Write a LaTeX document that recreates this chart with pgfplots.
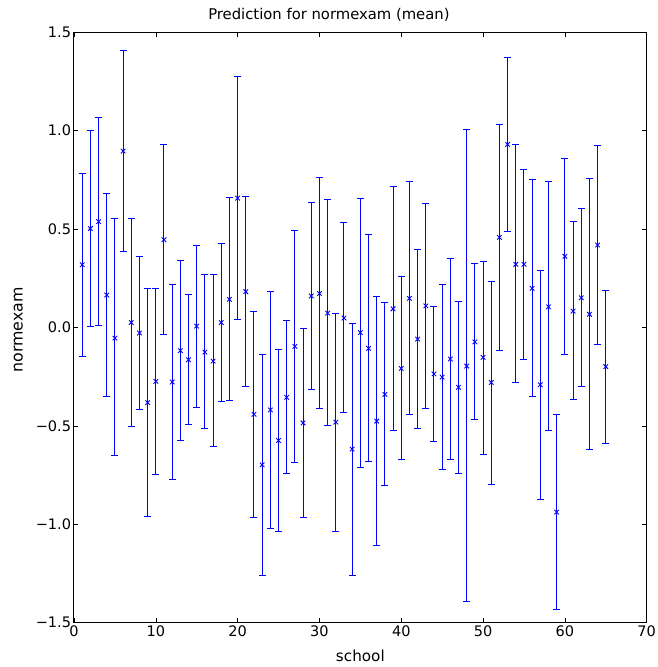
\documentclass[border=0pt]{standalone}
\usepackage{fontspec}
\setmainfont{DejaVu Sans}
\usepackage{pgfplots}
\usepackage{pgfplotstable}
\pgfplotsset{compat=1.18}
\definecolor{mplblue}{rgb}{0,0,1}
\pgfplotstableread{
x y lo hi
1 0.319 -0.149 0.784
2 0.503 0.005 1.000
3 0.538 0.010 1.068
4 0.165 -0.350 0.681
5 -0.054 -0.652 0.552
6 0.896 0.387 1.406
7 0.025 -0.502 0.553
8 -0.028 -0.419 0.360
9 -0.382 -0.961 0.200
10 -0.274 -0.745 0.197
11 0.446 -0.034 0.930
12 -0.277 -0.770 0.216
13 -0.118 -0.573 0.338
14 -0.164 -0.492 0.166
15 0.007 -0.404 0.418
16 -0.125 -0.515 0.267
17 -0.171 -0.603 0.267
18 0.025 -0.378 0.428
19 0.143 -0.373 0.662
20 0.657 0.040 1.273
21 0.182 -0.302 0.665
22 -0.441 -0.965 0.081
23 -0.698 -1.262 -0.135
24 -0.419 -1.022 0.183
25 -0.574 -1.037 -0.113
26 -0.355 -0.742 0.034
27 -0.096 -0.688 0.492
28 -0.485 -0.965 -0.004
29 0.160 -0.316 0.635
30 0.173 -0.414 0.761
31 0.073 -0.497 0.649
32 -0.481 -1.037 0.073
33 0.048 -0.432 0.531
34 -0.618 -1.262 0.020
35 -0.026 -0.711 0.657
36 -0.106 -0.682 0.474
37 -0.476 -1.108 0.156
38 -0.340 -0.802 0.126
39 0.095 -0.522 0.716
40 -0.208 -0.672 0.258
41 0.148 -0.444 0.740
42 -0.059 -0.512 0.394
43 0.110 -0.410 0.628
44 -0.236 -0.579 0.107
45 -0.252 -0.721 0.221
46 -0.160 -0.669 0.350
47 -0.304 -0.743 0.134
48 -0.196 -1.394 1.008
49 -0.073 -0.468 0.324
50 -0.152 -0.644 0.336
51 -0.279 -0.796 0.236
52 0.458 -0.115 1.031
53 0.930 0.487 1.372
54 0.321 -0.280 0.930
55 0.321 -0.162 0.803
56 0.199 -0.350 0.750
57 -0.291 -0.872 0.292
58 0.105 -0.522 0.740
59 -0.938 -1.432 -0.444
60 0.362 -0.135 0.857
61 0.083 -0.368 0.540
62 0.151 -0.299 0.603
63 0.067 -0.620 0.757
64 0.419 -0.086 0.924
65 -0.199 -0.588 0.190
}\data
\begin{document}
\begin{tikzpicture}
\begin{axis}[
  name=ax,
  scale only axis,
  width=572.7bp, height=590.4bp,
  xmin=0, xmax=70, ymin=-1.5, ymax=1.5,
  xtick={0,10,...,70},
  ytick={-1.5,-1,-0.5,0,0.5,1,1.5},
  yticklabels={−1.5,−1.0,−0.5,0.0,0.5,1.0,1.5},
  /pgf/number format/assume math mode=true,
  tick label style={font=\fontsize{14.5bp}{17bp}\selectfont, black},
  yticklabel style={xshift=0.5bp},
  xticklabel style={yshift=0.5bp},
  major tick length=4.5bp,
  tick style={black, line width=0.6bp},
  tick align=inside,
  axis line style={black, line width=1bp},
  title={Prediction for normexam (mean)},
  title style={font=\fontsize{14.8bp}{17bp}\selectfont, at={(0.5,1)}, anchor=base, yshift=7.3bp, xshift=-31.4bp},
  xlabel={school},
  ylabel={normexam},
  every axis x label/.style={at={(axis description cs:0.5,0)}, anchor=base, yshift=-38.3bp, font=\fontsize{15.2bp}{17bp}\selectfont},
  every axis y label/.style={at={(axis description cs:0,0.5)}, xshift=-51.3bp, yshift=-2.5bp, rotate=90, anchor=base, font=\fontsize{15.8bp}{18bp}\selectfont},
]
% vertical interval lines (lo to hi)
\addplot[draw=mplblue, line width=1bp, -, quiver={u=0, v={\thisrow{hi}-\thisrow{lo}}}]
  table[x=x, y=lo] {\data};
% caps
\addplot[only marks, mark=-, mark size=3.5bp, color=mplblue, line width=1bp]
  table[x=x, y=lo] {\data};
\addplot[only marks, mark=-, mark size=3.5bp, color=mplblue, line width=1bp]
  table[x=x, y=hi] {\data};
% means
\addplot[only marks, color=mplblue, mark=x, mark size=3.2bp, line width=0.9bp]
  table[x=x, y=y] {\data};
\end{axis}
\pgfresetboundingbox
\path[use as bounding box] ([xshift=-74bp,yshift=-44.3bp]ax.south west) rectangle ([xshift=11.3bp,yshift=32.3bp]ax.north east);
\end{tikzpicture}
\end{document}
